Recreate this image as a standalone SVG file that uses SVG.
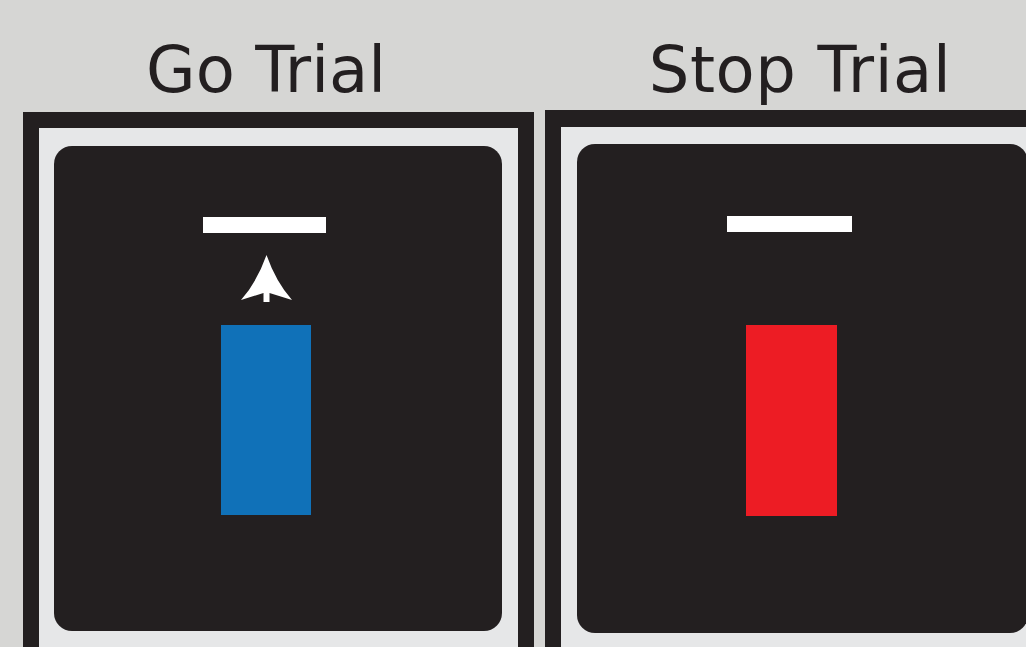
<svg xmlns="http://www.w3.org/2000/svg" width="1026" height="647" viewBox="0 0 1026 647">
<style>
.bg{fill:#d6d6d4}
.frame{fill:#231f20}
.mat{fill:#e6e7e8}
.screen{fill:#231f20}
.bar{fill:#ffffff}
.title{font-family:"DejaVu Sans",sans-serif;font-size:64px;fill:#231f20;text-anchor:middle}
</style>
<rect class="bg" x="0" y="0" width="1026" height="647"/>
<g id="go-trial">
<text class="title" x="266" y="92">Go Trial</text>
<rect class="frame" x="23" y="112" width="511" height="540"/>
<rect class="mat" x="39" y="128" width="479" height="524"/>
<rect class="screen" x="54" y="146" width="448" height="485" rx="18" ry="18"/>
<rect class="bar" x="203" y="217" width="123" height="16"/>
<path class="bar" d="M266.5,255 Q276,282 292,300 L269.5,293 L269.5,302 L263.5,302 L263.5,293 L241,300 Q257,282 266.5,255 Z"/>
<rect x="221" y="325" width="90" height="190" fill="#1071b8"/>
</g>
<g id="stop-trial">
<text class="title" x="800" y="92" letter-spacing="0.6">Stop Trial</text>
<rect class="frame" x="545" y="110" width="500" height="540"/>
<rect class="mat" x="561" y="127" width="480" height="524"/>
<rect class="screen" x="577" y="144" width="451" height="489" rx="18" ry="18"/>
<rect class="bar" x="727" y="216" width="125" height="16"/>
<rect x="746" y="325" width="91" height="191" fill="#ed1c24"/>
</g>
</svg>
